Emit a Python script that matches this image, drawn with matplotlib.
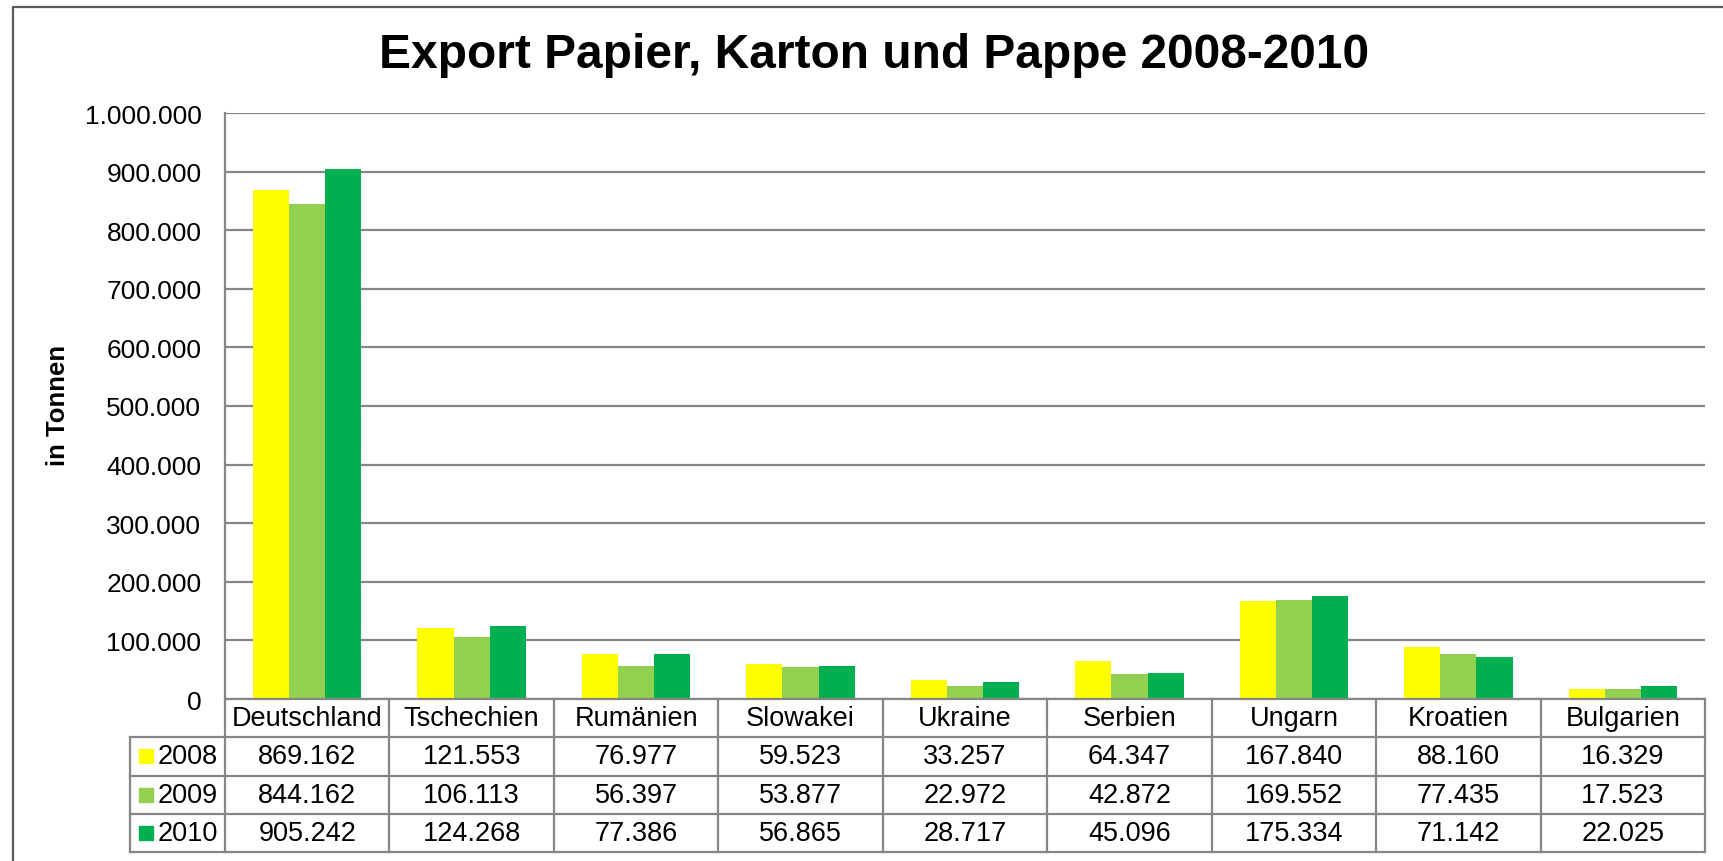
import matplotlib.pyplot as plt
from matplotlib.lines import Line2D
import numpy as np

plt.rcParams['font.family'] = ['Liberation Sans', 'DejaVu Sans']

countries = ['Deutschland', 'Tschechien', 'Rumänien', 'Slowakei', 'Ukraine',
             'Serbien', 'Ungarn', 'Kroatien', 'Bulgarien']
years = ['2008', '2009', '2010']
export_2008 = [869162, 121553, 76977, 59523, 33257, 64347, 167840, 88160, 16329]
export_2009 = [844162, 106113, 56397, 53877, 22972, 42872, 169552, 77435, 17523]
export_2010 = [905242, 124268, 77386, 56865, 28717, 45096, 175334, 71142, 22025]
y_ticks = np.arange(0, 1000001, 100000)

series = [export_2008, export_2009, export_2010]
colors = ['#FFFF00', '#92D050', '#00B050']
grid_col = '#868686'

W, H = 1724, 862
fig = plt.figure(figsize=(W / 100, H / 100), dpi=100)


def px_box(x0, y0, x1, y1):
    # pixel box (top-left origin) -> figure fraction rect
    return [x0 / W, 1 - y1 / H, (x1 - x0) / W, (y1 - y0) / H]


def de_fmt(v):
    return f"{int(v):,}".replace(",", ".")


# outer frame (left and top only visible)
fig.add_artist(Line2D([13 / W, 13 / W, 1.0], [0, 1 - 8 / H, 1 - 8 / H],
                      transform=fig.transFigure, color='#5a5a5a', lw=1.6))

# main bar chart
ax = fig.add_axes(px_box(225, 114, 1705, 700))
x = np.arange(len(countries))
width = 0.22
for i, (vals, col) in enumerate(zip(series, colors)):
    ax.bar(x + (i - 1) * width, vals, width, color=col, zorder=3,
           label=years[i])

ax.set_xlim(-0.5, len(countries) - 0.5)
ax.set_ylim(0, 1000000)
ax.set_yticks(y_ticks)
ax.set_yticklabels([de_fmt(v) for v in y_ticks], fontsize=19)
ax.set_xticks([])
ax.tick_params(axis='y', length=0, pad=17)
ax.grid(axis='y', color=grid_col, lw=1.6, zorder=0)
for s in ['top', 'right', 'bottom']:
    ax.spines[s].set_visible(False)
ax.spines['left'].set_color(grid_col)
ax.spines['left'].set_linewidth(1.6)

fig.text(58 / W, 1 - 405 / H, 'in Tonnen', rotation=90, fontsize=18.5,
         fontweight='bold', ha='center', va='center')
fig.text(874 / W, 1 - 56 / H, 'Export Papier, Karton und Pappe 2008-2010',
         fontsize=34.5, fontweight='bold', ha='center', va='center')

# data table under the chart
leg_w = (225 - 130) / ((1705 - 225) / len(countries))
tax = fig.add_axes(px_box(130, 700, 1705, 853))
tax.set_xlim(-0.5 - leg_w, len(countries) - 0.5)
tax.set_ylim(4, 0)
tax.axis('off')

lk = dict(color=grid_col, lw=1.6, clip_on=False)
tax.plot([-0.5, len(countries) - 0.5], [0, 0], **lk)
for r in range(1, 5):
    tax.plot([-0.5 - leg_w, len(countries) - 0.5], [r, r], **lk)
tax.plot([-0.5 - leg_w, -0.5 - leg_w], [1, 4], **lk)
for k in range(len(countries) + 1):
    tax.plot([k - 0.5, k - 0.5], [0, 4], **lk)

for j, name in enumerate(countries):
    tax.text(j, 0.5, name, ha='center', va='center', fontsize=19.5)
for r, (vals, col) in enumerate(zip(series, colors)):
    tax.plot(-0.5 - leg_w + 0.1, r + 1.5, marker='s', ms=9.5, color=col,
             clip_on=False)
    tax.text(-0.5 - leg_w + 0.17, r + 1.5, years[r], ha='left', va='center',
             fontsize=19.5)
    for j, v in enumerate(vals):
        tax.text(j, r + 1.5, de_fmt(v), ha='center', va='center',
                 fontsize=19.5)

plt.savefig('out.png', dpi=100)
